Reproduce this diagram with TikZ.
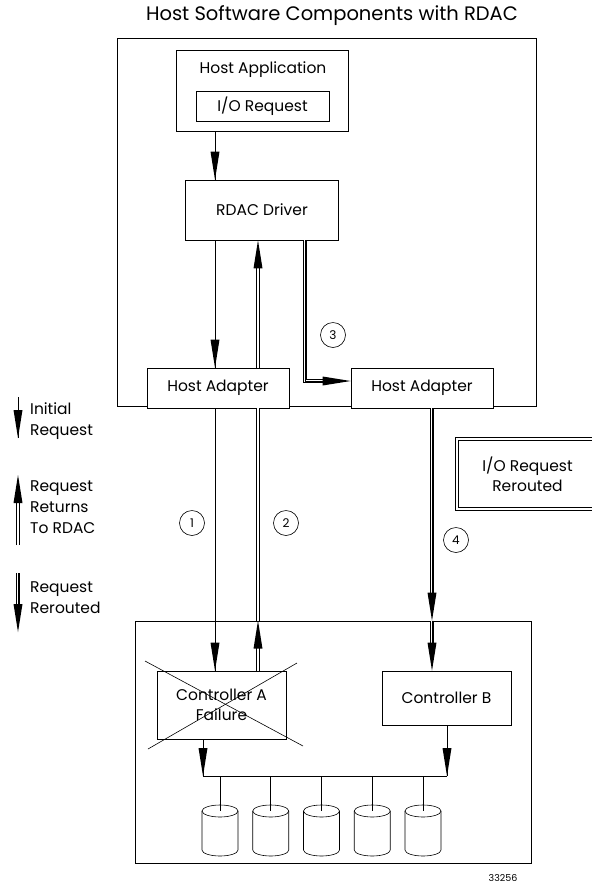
\documentclass[tikz,border=0pt]{standalone}
\usepackage{fontspec}
\setmainfont{Poppins}
\usetikzlibrary{calc}
\tikzset {
    frame/.style = {draw, line width = 0.7pt, inner sep = 0pt},
    box/.style = {frame, fill = white, font = \fontsize{15.5}{20}\selectfont, align = center},
    num/.style = {circle, draw, line width = 0.6pt, minimum size = 25pt, inner sep = 0pt, font = \fontsize{12}{12}\selectfont},
    legend/.style = {anchor = west, align = left, inner sep = 0pt, font = \fontsize{15.5}{21}\selectfont},
    %
    single line/.style = {line width = 0.7pt},
    return line/.style = {
        line width = 3.6pt,
        postaction = {draw = white, line width = 1.8pt}
    },
    reroute line/.style = {
        line width = 4.4pt,
        postaction = {draw = white, line width = 2.6pt},
        postaction = {draw, line width = 0.6pt}
    },
    head/.pic = {
        \fill [shorten > = 0pt, shorten < = 0pt] (0pt, 0pt) -- (-28pt, 4.5pt) -- (-28pt, -4.5pt) -- cycle;
    },
    rerouted box/.style = {draw, double, double distance = 1.6pt, line width = 0.9pt, inner sep = 0pt,
        font = \fontsize{15.5}{20}\selectfont, align = center}
}
\begin{document}
\begin{tikzpicture}[x = 1pt, y = -1pt]
    \useasboundingbox (0, 0) rectangle (592, 887);
    \node (title) [font = \fontsize{19.5}{19.5}\selectfont] at (332, 16) {Host Software Components with RDAC};
    %
    \node (host) [frame, minimum width = 419pt, minimum height = 368pt] at (326.5, 222) {};
    \node (app) [frame, minimum width = 172pt, minimum height = 81pt] at (262, 90.5) {};
    \node (applabel) [font = \fontsize{15.5}{15.5}\selectfont] at (263, 70) {Host Application};
    \node (io) [box, minimum width = 133pt, minimum height = 30pt] at (262.5, 106) {I/O Request};
    \node (rdac) [box, minimum width = 153pt, minimum height = 60pt] at (262, 210) {RDAC Driver};
    \node (haa) [box, minimum width = 142pt, minimum height = 40pt] at (218, 388) {Host Adapter};
    \node (hab) [box, minimum width = 142pt, minimum height = 40pt] at (422, 388) {Host Adapter};
    %
    \node (ctrl) [frame, minimum width = 396pt, minimum height = 242pt] at (333, 742) {};
    \node (ca) [box, minimum width = 129pt, minimum height = 68pt] at (221.5, 705) {Controller A\\Failure};
    \node (cb) [box, minimum width = 129pt, minimum height = 54pt] at (446.5, 698) {Controller B};
    \draw [line width = 0.6pt] (145, 661) -- (303, 746);
    \draw [line width = 0.6pt] (148, 749) -- (297, 663);
    %
    \node (rr) [rerouted box, minimum width = 141pt, minimum height = 70pt] at (527.5, 474) {I/O Request\\Rerouted};
    %
    \node (n1) [num] at (192, 523) {1};
    \node (n2) [num] at (286, 523) {2};
    \node (n3) [num] at (333, 335) {3};
    \node (n4) [num] at (456, 540) {4};
    %
    \coordinate (colA) at (215, 0);
    \coordinate (colB) at (258, 0);
    \coordinate (colR) at (305, 0);
    \coordinate (colD) at (432, 0);
    \coordinate (colE) at (203, 0);
    \coordinate (colF) at (447, 0);
    \coordinate (bus) at (0, 776);
    %
    \draw [single line] (app.south -| colA) -- (rdac.north -| colA)
        pic [pos = 1, sloped, allow upside down] {head};
    \draw [single line] (rdac.south -| colA) -- (haa.north -| colA)
        pic [pos = 1, sloped, allow upside down] {head};
    \draw [single line] (haa.south -| colA) -- (ca.north -| colA)
        pic [pos = 1, sloped, allow upside down] {head};
    %
    \draw [return line, shorten > = 20pt] (haa.north -| colB) -- (rdac.south -| colB)
        pic [pos = 1, sloped, allow upside down] {head};
    \draw [return line, shorten > = 20pt] (ca.north -| colB) -- (ctrl.north -| colB)
        pic [pos = 1, sloped, allow upside down] {head};
    \draw [return line] (ctrl.north -| colB) -- (haa.south -| colB);
    %
    \draw [reroute line, shorten > = 20pt] (rdac.south -| colR) |- ([yshift = 7pt] hab.west)
        pic [pos = 1, sloped, allow upside down] {head};
    \draw [reroute line, shorten > = 20pt] (hab.south -| colD) -- (ctrl.north -| colD)
        pic [pos = 1, sloped, allow upside down] {head};
    \draw [reroute line, shorten > = 20pt] (ctrl.north -| colD) -- (cb.north -| colD)
        pic [pos = 1, sloped, allow upside down] {head};
    %
    \draw [single line] (ca.south -| colE) -- (bus -| colE)
        pic [pos = 1, sloped, allow upside down] {head};
    \draw [single line] (cb.south -| colF) -- (bus -| colF)
        pic [pos = 1, sloped, allow upside down] {head};
    \draw [single line] (bus -| colE) -- (bus -| colF);
    %
    \foreach \i in {0, ..., 4} {
        \coordinate (d\i) at (220 + 50.75 * \i, 811);
        \draw [line width = 0.6pt] (bus -| d\i) -- (d\i);
        \draw [line width = 0.6pt] (d\i) ellipse [x radius = 18, y radius = 6];
        \draw [line width = 0.6pt] ($(d\i) + (-18, 0)$) -- ++(0, 39)
            arc [start angle = 180, end angle = 0, x radius = 18, y radius = 6] -- ++(0, -39);
    }
    %
    \coordinate (l1a) at (18, 397);
    \coordinate (l1b) at (18, 438);
    \coordinate (l2a) at (18, 545);
    \coordinate (l2b) at (18, 475);
    \coordinate (l3a) at (18, 573);
    \coordinate (l3b) at (18, 632);
    \draw [single line] (l1a) -- (l1b) pic [pos = 1, sloped, allow upside down] {head};
    \draw [return line, shorten > = 20pt] (l2a) -- (l2b) pic [pos = 1, sloped, allow upside down] {head};
    \draw [reroute line, shorten > = 20pt] (l3a) -- (l3b) pic [pos = 1, sloped, allow upside down] {head};
    \node (t1) [legend] at (30, 421.5) {Initial\\Request};
    \node (t2) [legend] at (30, 507) {Request\\Returns\\To RDAC};
    \node (t3) [legend] at (30, 597.5) {Request\\Rerouted};
    %
    \node (fig) [font = \fontsize{9.5}{9.5}\selectfont, inner sep = 1pt] at (503, 878) {33256};
\end{tikzpicture}
\end{document}
